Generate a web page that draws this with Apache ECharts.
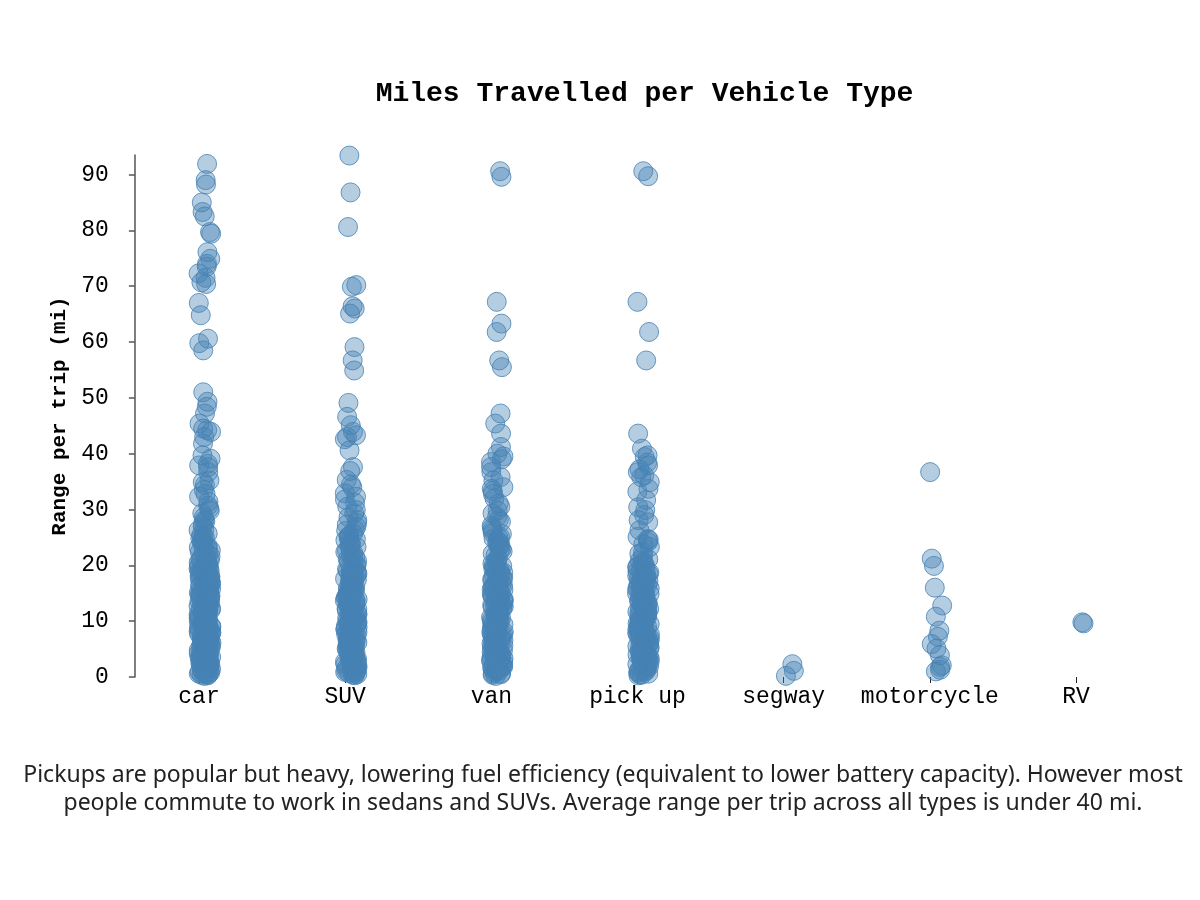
<!DOCTYPE html>
<html>
<head>
<meta charset="utf-8">
<script src="https://cdn.jsdelivr.net/npm/echarts@6/dist/echarts.min.js"></script>
<style>
html,body{margin:0;padding:0;background:#fff;}
#chart{width:1200px;height:900px;}
</style>
</head>
<body>
<div id="chart"></div>
<script>
const categories = ['car', 'SUV', 'van', 'pick up', 'segway', 'motorcycle', 'RV'];

const carMiles = [91.9, 89.0, 88.2, 85.0, 83.3, 82.5, 79.7, 79.4, 76.1, 74.9, 74.0, 73.5, 72.3, 71.5, 70.7, 70.4, 67.0, 64.8, 60.6, 59.8, 58.5,
  51.0, 49.3, 48.4, 47.2, 45.4, 44.5, 43.9, 43.0, 41.8, 39.7, 39.1, 38.2, 37.6, 36.7, 35.2, 34.4, 33.5, 32.3, 31.4, 30.2, 29.3, 28.1,
  44.2, 37.9, 34.9, 32.8, 30.7, 29.8, 28.6, 27.4, 27.9,
  26.9, 26.3, 25.4, 24.8, 24.1, 23.5, 22.7, 22.2, 21.4, 20.9, 20.3,
  19.8, 19.2, 18.9, 18.1, 17.6, 17.2, 16.7, 16.1, 15.8, 15.3, 14.9, 14.2, 13.8, 13.3, 12.9, 12.4, 12.0, 11.7, 11.1, 10.8, 10.4,
  9.9, 9.5, 9.1, 8.8, 8.2, 7.9, 7.4, 7.0, 6.6, 6.1, 5.8, 5.3, 4.9, 4.5, 4.0, 3.7, 3.2, 2.8, 2.4, 1.9, 1.5, 1.1, 0.7, 0.3,
  19.5, 18.4, 17.9, 16.9, 16.3, 15.5, 14.6, 13.6, 13.1, 12.6, 11.4, 10.6, 10.1, 9.3, 8.5, 7.7, 7.2, 6.4, 5.6, 5.1, 4.2, 3.5, 3.0, 2.1, 1.3, 0.9, 0.5,
  18.6, 17.4, 15.1, 14.4, 12.2, 11.3, 9.7, 8.6, 6.8, 6.3, 4.7, 3.9, 2.6, 1.7, 0.8, 0.4, 14.0, 11.9, 10.2, 8.0, 5.4, 3.4, 2.2, 1.0,
  0.2, 0.6, 1.2, 1.6, 2.0, 2.3, 2.7, 2.9, 3.1, 3.6, 3.8, 4.3, 4.6, 4.8, 5.2, 5.5, 5.9, 6.2, 6.5, 6.9, 7.1, 7.5, 7.8, 8.1, 8.4,
  8.7, 9.0, 9.2, 9.8, 10.0, 10.3, 10.9, 11.2, 11.5, 11.8, 12.3, 12.5, 12.8, 13.0, 13.4, 13.7, 14.1, 14.5, 14.8, 15.2, 15.6, 15.9,
  16.4, 16.6, 17.0, 17.5, 17.8, 18.3, 18.8, 19.1, 19.6, 20.0, 20.5, 21.0, 21.6, 22.0, 22.4, 23.0, 23.7, 24.3, 25.0, 25.7, 26.5,
  0.5, 1.4, 2.5, 3.3, 4.4, 5.7, 6.7, 7.6, 8.9, 9.4, 10.7, 11.6, 12.7, 13.9, 15.0, 16.5, 17.7, 19.0, 21.1, 23.2, 24.6,
  1.8, 3.5, 6.0, 8.3, 10.5, 12.1, 14.3, 16.8, 18.0, 19.4, 20.7, 22.9, 25.2];

const suvMiles = [93.6, 93.4, 86.8, 80.6, 70.2, 69.9, 66.4, 66.0, 65.1, 59.1, 56.7, 54.9, 49.1, 46.6, 45.1, 43.9, 43.3, 42.6, 40.6,
  37.6, 36.9, 35.3, 34.5, 32.9, 32.3, 31.8, 30.5, 29.3, 28.6, 28.1, 26.9, 25.7, 24.9, 24.5, 23.3, 22.6, 21.8, 21.1, 20.4,
  43.0, 34.0, 31.2, 29.9, 27.6, 26.4, 25.2,
  19.9, 19.3, 18.7, 18.2, 17.5, 17.1, 16.4, 15.9, 15.2, 14.8, 14.1, 13.7, 13.0, 12.5, 12.1, 11.6, 10.9, 10.5, 9.8, 9.4, 8.9,
  8.3, 7.8, 7.3, 6.9, 6.2, 5.7, 5.2, 4.8, 4.3, 3.8, 3.3, 2.9, 2.3, 1.8, 1.4, 0.9, 0.6,
  19.1, 18.0, 17.3, 16.6, 15.6, 14.5, 13.4, 12.8, 11.8, 11.2, 10.3, 9.6, 8.7, 7.5, 6.7, 6.0, 5.0, 4.4, 3.6, 2.7, 2.0, 1.2, 0.4,
  18.5, 16.2, 13.9, 12.3, 10.7, 9.2, 8.1, 7.1, 5.5, 4.1, 3.1, 1.6, 0.7, 15.0, 11.5, 6.5, 2.5,
  0.3, 0.8, 1.1, 1.5, 1.9, 2.2, 2.6, 3.0, 3.4, 3.9, 4.2, 4.6, 5.1, 5.4, 5.8, 6.3, 6.6, 7.0, 7.4, 7.7, 8.0, 8.5, 8.8, 9.1, 9.5,
  9.9, 10.2, 10.6, 11.0, 11.4, 11.9, 12.2, 12.7, 13.2, 13.5, 13.8, 14.3, 14.7, 15.3, 15.7, 16.0, 16.5, 16.9, 17.4, 17.8, 18.3,
  18.8, 19.5, 20.1, 20.8, 21.4, 22.2, 23.0, 23.8, 24.7, 25.3, 26.2, 27.3,
  0.5, 1.7, 3.2, 4.5, 5.9, 7.2, 8.6, 10.0, 11.3, 12.9, 14.4, 16.1, 17.6, 19.0, 20.6, 22.4, 24.1,
  1.0, 2.8, 4.9, 6.8, 8.4, 9.7, 12.0, 13.6, 15.5, 17.0, 18.5, 21.6, 23.5];

const vanMiles = [90.6, 89.6, 67.2, 63.3, 61.8, 56.7, 55.5, 47.2, 45.4, 43.6, 41.2, 40.0, 39.5, 38.5, 37.6, 36.7, 35.8, 35.2, 34.0, 33.3,
  32.8, 32.0, 30.5, 29.3, 28.7, 27.8, 26.3, 25.1, 24.4, 23.9, 22.9, 22.1, 21.3, 20.5,
  39.0, 33.7, 31.1, 29.8, 28.2, 27.1, 25.8, 24.9,
  19.7, 19.1, 18.5, 17.8, 17.4, 16.8, 16.2, 15.7, 15.0, 14.5, 14.0, 13.4, 12.8, 12.3, 11.9, 11.2, 10.7, 10.1, 9.6, 9.0, 8.6,
  8.0, 7.5, 7.1, 6.5, 6.0, 5.5, 5.0, 4.6, 4.1, 3.6, 3.1, 2.7, 2.2, 1.7, 1.3, 0.8, 0.4,
  18.9, 17.1, 15.4, 13.7, 12.6, 11.5, 10.4, 9.3, 8.3, 7.3, 6.3, 5.2, 4.4, 3.4, 2.4, 1.5, 0.6,
  18.2, 16.5, 14.2, 12.0, 9.8, 7.7, 5.8, 3.9, 2.0, 1.0, 13.1, 10.9, 6.8, 4.8,
  0.2, 0.7, 1.1, 1.6, 1.9, 2.5, 2.9, 3.3, 3.7, 4.2, 4.7, 5.1, 5.6, 6.1, 6.6, 6.9, 7.4, 7.9, 8.2, 8.8, 9.2, 9.5, 9.9, 10.3, 10.8,
  11.3, 11.7, 12.2, 12.5, 12.9, 13.5, 13.9, 14.4, 14.8, 15.2, 15.6, 16.1, 16.6, 17.2, 17.6, 18.0, 18.7, 19.3, 19.9, 20.3, 21.0,
  21.8, 22.5, 23.3, 24.0, 24.8, 25.6, 26.7,
  0.5, 1.8, 3.0, 4.3, 5.4, 6.7, 8.1, 9.4, 10.6, 11.8, 13.3, 14.6, 16.0, 17.7, 19.4, 22.8,
  1.4, 3.5, 5.3, 7.0, 8.9, 11.0, 12.7, 14.9, 16.4, 18.4, 20.0, 23.6];

const pickupMiles = [90.6, 89.7, 67.2, 61.8, 56.7, 43.6, 40.9, 39.7, 39.4, 37.9, 37.2, 36.7, 35.8, 33.7, 33.2, 31.7, 29.9, 29.0, 28.1,
  27.7, 25.1, 24.2, 23.8, 23.3, 21.6, 20.8, 20.3, 19.6, 19.2,
  38.4, 36.1, 34.9, 30.4, 26.3, 24.7, 22.4,
  18.7, 18.1, 17.6, 17.0, 16.5, 15.9, 15.4, 14.8, 14.3, 13.6, 13.1, 12.5, 12.0, 11.4, 10.9, 10.3, 9.8, 9.2, 8.7, 8.1, 7.6,
  7.0, 6.5, 5.9, 5.4, 4.9, 4.3, 3.8, 3.2, 2.7, 2.1, 1.6, 1.1, 0.5,
  17.8, 16.2, 14.6, 13.3, 11.7, 10.6, 9.5, 8.4, 7.3, 6.2, 5.1, 4.0, 2.9, 1.9, 0.8,
  16.8, 12.8, 10.0, 7.9, 5.7, 3.5, 1.3, 0.3,
  0.6, 1.0, 1.5, 2.0, 2.4, 2.8, 3.3, 3.7, 4.1, 4.6, 5.0, 5.5, 6.0, 6.4, 6.8, 7.2, 7.7, 8.2, 8.6, 9.0, 9.4, 9.9, 10.4, 10.8,
  11.2, 11.6, 12.2, 12.6, 13.0, 13.5, 13.9, 14.4, 14.9, 15.3, 15.7, 16.3, 16.7, 17.2, 17.6, 18.2, 18.9, 19.4, 20.0, 20.6,
  0.4, 2.3, 4.5, 6.7, 8.9, 11.1, 13.7, 15.6, 17.4, 19.8, 22.1, 24.6,
  0.9, 1.8, 2.6, 3.4, 4.2, 5.3, 6.1, 7.0, 7.9, 8.8, 9.6, 10.5, 11.5, 12.3, 13.2, 14.1, 15.0, 16.0, 16.9, 17.9, 18.5, 21.1];

const segwayMiles = [1.1, 2.3, 0.2];

const motorcycleMiles = [36.7, 21.2, 19.9, 16.0, 12.8, 10.8, 8.3, 7.2, 5.9, 5.1, 3.9, 2.1, 1.8, 1.3, 1.0];

const rvMiles = [9.8, 9.6];

const yTicks = [0, 10, 20, 30, 40, 50, 60, 70, 80, 90];
const yMax = 93.5;

const titleText = 'Miles Travelled per Vehicle Type';
const yAxisTitle = 'Range per trip (mi)';
const captionText = 'Pickups are popular but heavy, lowering fuel efficiency (equivalent to lower battery capacity). However most\npeople commute to work in sedans and SUVs. Average range per trip across all types is under 40 mi.';

const seriesByCategory = [carMiles, suvMiles, vanMiles, pickupMiles, segwayMiles, motorcycleMiles, rvMiles];
const points = [];
seriesByCategory.forEach(function (vals, i) {
  vals.forEach(function (v) { points.push([categories[i], v]); });
});

const mono = "'Liberation Mono', 'Courier New', monospace";

const chart = echarts.init(document.getElementById('chart'), null, {renderer: 'canvas'});
chart.setOption({
  animation: false,
  backgroundColor: '#ffffff',
  grid: {left: 125.9, right: 50.9, top: 155, bottom: 223, containLabel: false},
  xAxis: {
    type: 'category',
    data: categories,
    boundaryGap: true,
    jitter: 13,
    jitterOverlap: true,
    axisLine: {show: false},
    axisTick: {show: true, alignWithLabel: true, interval: 0, length: 6, lineStyle: {color: '#222', width: 1}},
    axisLabel: {color: '#000', fontFamily: mono, fontSize: 23, margin: 8, interval: 0},
    splitLine: {show: false}
  },
  yAxis: {
    type: 'value',
    min: 0,
    max: yMax,
    interval: 10,
    offset: -9,
    name: yAxisTitle,
    nameLocation: 'middle',
    nameGap: 64,
    nameTextStyle: {color: '#000', fontFamily: mono, fontSize: 21, fontWeight: 'bold'},
    axisLine: {show: true, lineStyle: {color: '#555', width: 1.5}},
    axisTick: {show: true, length: 6, lineStyle: {color: '#555', width: 1.5}},
    axisLabel: {
      color: '#000', fontFamily: mono, fontSize: 23, margin: 26, showMaxLabel: false,
      formatter: function (v) { return yTicks.indexOf(v) >= 0 ? String(v) : ''; }
    },
    splitLine: {show: false}
  },
  graphic: [
    {type: 'text', x: 644.5, y: 94, style: {text: titleText, font: 'bold 28px ' + mono, fill: '#000', align: 'center', verticalAlign: 'middle'}},
    {type: 'text', x: 603, y: 789, style: {text: captionText, font: '23px "Noto Sans", sans-serif', lineHeight: 28, fill: '#222', align: 'center', verticalAlign: 'middle'}}
  ],
  series: [{
    type: 'scatter',
    data: points,
    symbol: 'circle',
    symbolSize: 19,
    symbolOffset: [6, 0],
    itemStyle: {color: 'rgba(70,130,180,0.5)', borderColor: 'steelblue', borderWidth: 1}
  }]
});
</script>
</body>
</html>
